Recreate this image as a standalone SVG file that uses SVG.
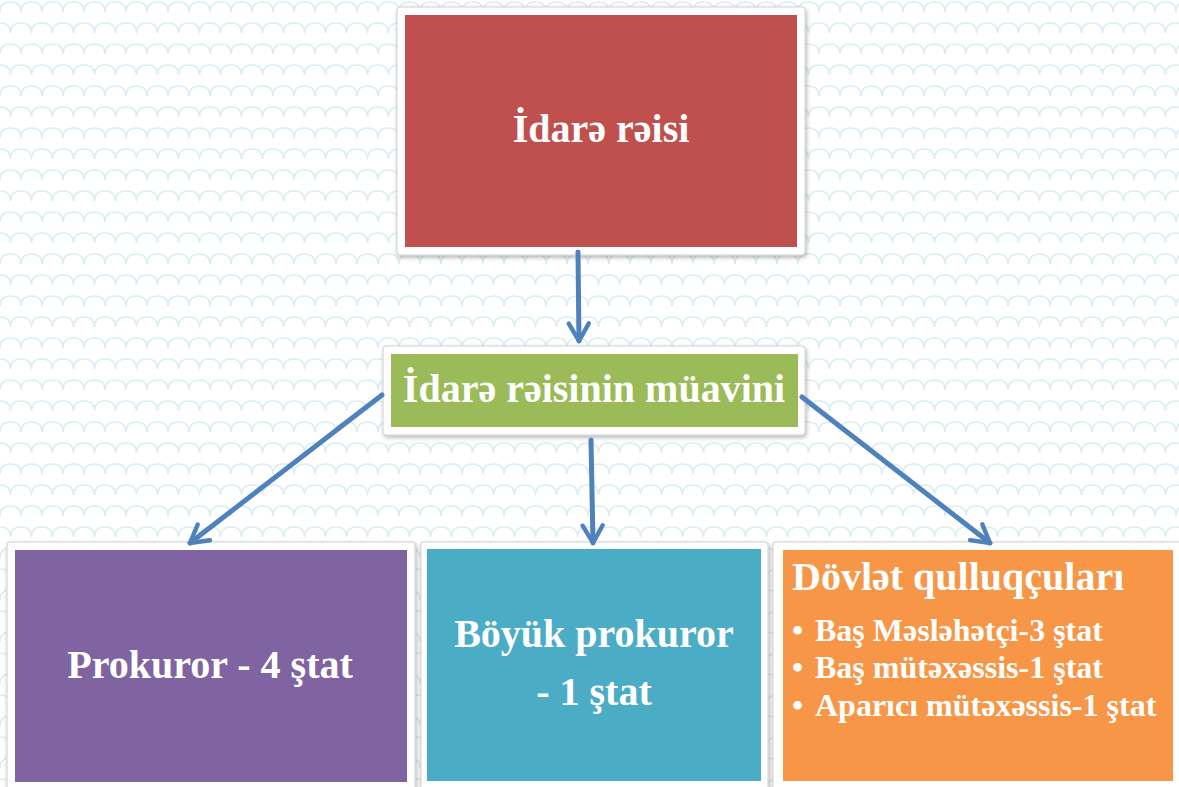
<svg xmlns="http://www.w3.org/2000/svg" width="1179" height="787" viewBox="0 0 1179 787">
<defs>
<pattern id="scales" x="0" y="0" width="42" height="42" patternUnits="userSpaceOnUse">
<path d="M0,12 q0,-10 10.5,-10 q10.5,0 10.5,10 M21,12 q0,-10 10.5,-10 q10.5,0 10.5,10 M-10.5,33 q0,-10 10.5,-10 q10.5,0 10.5,10 M10.5,33 q0,-10 10.5,-10 q10.5,0 10.5,10 M31.5,33 q0,-10 10.5,-10 q10.5,0 10.5,10" fill="none" stroke="#daedf3" stroke-width="1.6"/>
</pattern>
<filter id="sh" x="-5%" y="-5%" width="110%" height="115%">
<feDropShadow dx="1" dy="2" stdDeviation="2" flood-color="#000" flood-opacity="0.3"/>
</filter>
<marker id="arr" viewBox="0 0 20 20" refX="17" refY="10" markerWidth="5" markerHeight="5" orient="auto" markerUnits="strokeWidth">
<path d="M3,2 L17,10 L3,18" fill="none" stroke="#4f81bd" stroke-width="3.5" stroke-linecap="round" stroke-linejoin="round"/>
</marker>
</defs>
<style>
.frame{fill:#fff;stroke:#d0d0d0;stroke-width:1;filter:url(#sh)}
.t{font-family:"Liberation Serif","Times New Roman",serif;font-weight:bold;fill:#fff}
.c{text-anchor:middle}
.conn{stroke:#4f81bd;stroke-width:5;stroke-linecap:round;fill:none;marker-end:url(#arr)}
</style>
<rect width="1179" height="787" fill="#fff"/>
<rect width="1179" height="787" fill="url(#scales)"/>

<g id="idare-reisi">
<rect class="frame" x="397" y="7" width="408" height="248" rx="3"/>
<rect x="405" y="15" width="392" height="232" fill="#c0504d"/>
<text class="t c" x="601" y="142" font-size="40">İdarə rəisi</text>
</g>

<g id="muavin">
<rect class="frame" x="383" y="346" width="422" height="89" rx="3"/>
<rect x="391" y="354" width="407" height="73" fill="#9bbb59"/>
<text class="t c" x="594" y="402" font-size="40">İdarə rəisinin müavini</text>
</g>

<g id="prokuror">
<rect class="frame" x="7" y="542" width="408" height="250" rx="3"/>
<rect x="15" y="550" width="392" height="232" fill="#8064a2"/>
<text class="t c" x="210" y="678" font-size="40">Prokuror - 4 ştat</text>
</g>

<g id="boyuk-prokuror">
<rect class="frame" x="421" y="542" width="347" height="250" rx="3"/>
<rect x="427" y="549" width="334" height="232" fill="#4bacc6"/>
<text class="t c" x="594" y="647" font-size="40">Böyük prokuror</text>
<text class="t c" x="594" y="705" font-size="40">- 1 ştat</text>
</g>

<g id="dovlet-qulluqculari">
<rect class="frame" x="773" y="542" width="410" height="250" rx="3"/>
<rect x="783" y="550" width="390" height="231" fill="#f79646"/>
<text class="t" x="792" y="590" font-size="40">Dövlət qulluqçuları</text>
<text class="t" font-size="32">
<tspan x="792" y="641">•</tspan><tspan x="815" y="641">Baş Məsləhətçi-3 ştat</tspan>
<tspan x="792" y="678">•</tspan><tspan x="815" y="678">Baş mütəxəssis-1 ştat</tspan>
<tspan x="792" y="716">•</tspan><tspan x="815" y="716">Aparıcı mütəxəssis-1 ştat</tspan>
</text>
</g>

<g id="connectors">
<line class="conn" x1="578" y1="252" x2="579" y2="341"/>
<line class="conn" x1="382" y1="395" x2="190" y2="543"/>
<line class="conn" x1="591" y1="440" x2="593" y2="543"/>
<line class="conn" x1="802" y1="397" x2="990" y2="543"/>
</g>
</svg>
